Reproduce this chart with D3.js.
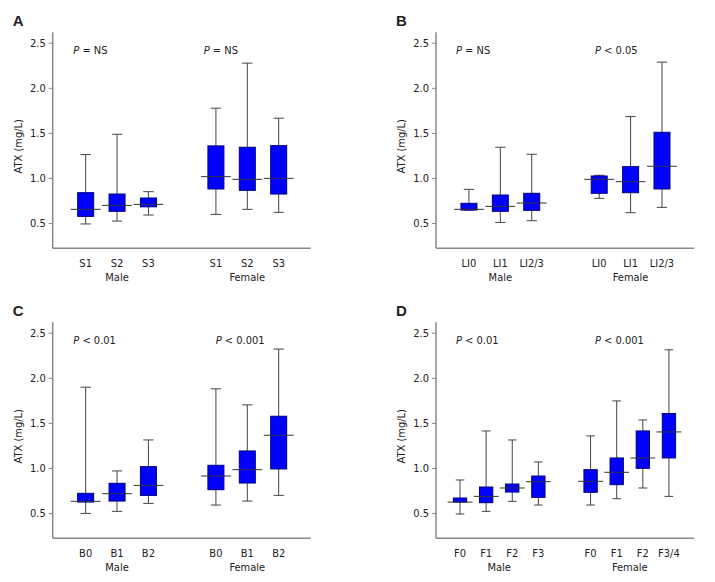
<!DOCTYPE html>
<html><head><meta charset="utf-8">
<script src="https://cdn.jsdelivr.net/npm/d3@7"></script>
<style>
body{margin:0;background:#fff;}
svg{display:block;}
text{font-family:"DejaVu Sans Condensed","DejaVu Sans",sans-serif;fill:#222;}
</style></head>
<body><svg id="chart" width="715" height="582"></svg>
<script>
// ---------- data: [lower whisker, Q1, median, Q3, upper whisker] ----------
const yTicks = [0.5, 1.0, 1.5, 2.0, 2.5];
const groups = ["Male", "Female"];

const catsA = ["S1", "S2", "S3"];
const maleA = [[0.49,0.574,0.652,0.837,1.26],[0.522,0.63,0.696,0.822,1.485],[0.589,0.68,0.707,0.778,0.848]];
const femaleA = [[0.596,0.878,1.015,1.356,1.774],[0.652,0.863,0.985,1.341,2.274],[0.619,0.822,0.996,1.359,1.663]];
const pA = ["= NS", "= NS"];

const catsB = ["LI0", "LI1", "LI2/3"];
const maleB = [[0.644,0.644,0.652,0.719,0.874],[0.507,0.63,0.685,0.811,1.341],[0.526,0.641,0.722,0.83,1.263]];
const femaleB = [[0.774,0.83,0.985,1.022,1.03],[0.615,0.837,0.959,1.126,1.681],[0.674,0.878,1.13,1.507,2.285]];
const pB = ["= NS", "< 0.05"];

const catsC = ["B0", "B1", "B2"];
const maleC = [[0.496,0.622,0.63,0.719,1.896],[0.519,0.633,0.715,0.83,0.967],[0.607,0.696,0.807,1.015,1.311]];
const femaleC = [[0.589,0.759,0.911,1.03,1.878],[0.633,0.833,0.981,1.189,1.70],[0.696,0.989,1.363,1.574,2.319]];
const pC = ["< 0.01", "< 0.001"];

const catsDMale = ["F0", "F1", "F2", "F3"];
const catsDFemale = ["F0", "F1", "F2", "F3/4"];
const maleD = [[0.489,0.622,0.622,0.667,0.867],[0.519,0.615,0.685,0.789,1.411],[0.63,0.733,0.778,0.822,1.311],[0.589,0.674,0.848,0.911,1.067]];
const femaleD = [[0.589,0.73,0.852,0.981,1.356],[0.659,0.815,0.952,1.111,1.744],[0.778,0.996,1.111,1.411,1.533],[0.685,1.111,1.40,1.604,2.311]];
const pD = ["< 0.01", "< 0.001"];

// ---------- layout ----------
const panels = [
  {letter:"A", ox:52.7, oy:32.3, mCats:catsA, fCats:catsA, male:maleA, female:femaleA, p:pA, femStart:4.15, dom:[-1.05,7.17], pX:[20.6,151]},
  {letter:"B", ox:436,  oy:32.3, mCats:catsB, fCats:catsB, male:maleB, female:femaleB, p:pB, femStart:4.15, dom:[-1.05,7.17], pX:[20,159]},
  {letter:"C", ox:52.7, oy:322.3, mCats:catsC, fCats:catsC, male:maleC, female:femaleC, p:pC, femStart:4.15, dom:[-1.05,7.17], pX:[20.6,163]},
  {letter:"D", ox:436,  oy:322.3, mCats:catsDMale, fCats:catsDFemale, male:maleD, female:femaleD, p:pD, femStart:5.0, dom:[-0.92,8.96], pX:[20,159]}
];
const W = 258, H = 216;
const svg = d3.select("#chart");

panels.forEach(pn => {
  const g = svg.append("g").attr("transform", `translate(${pn.ox},${pn.oy})`);
  const y = d3.scaleLinear().domain([0.22, 2.616]).range([H, 0]);
  const x = d3.scaleLinear().domain(pn.dom).range([0, W]);
  const step = x(1) - x(0);

  const items = [];
  pn.male.forEach((s,i) => items.push({pos:i, s, cat:pn.mCats[i]}));
  pn.female.forEach((s,i) => items.push({pos:pn.femStart+i, s, cat:pn.fCats[i]}));

  // axes
  const yAxis = d3.axisLeft(y).tickValues(yTicks).tickFormat(d3.format(".1f")).tickSize(4).tickPadding(3);
  const ya = g.append("g").call(yAxis);
  ya.select(".domain").attr("d", `M0,0V${H}`).attr("stroke", "#888").attr("stroke-width", 1.5);
  ya.selectAll(".tick line").attr("stroke", "#888");
  ya.selectAll(".tick text").attr("font-size", 11).attr("fill", "#333")
    .style("font-family", '"DejaVu Sans Condensed","DejaVu Sans",sans-serif');
  g.append("line").attr("x1", 0).attr("x2", W).attr("y1", H).attr("y2", H)
    .attr("stroke", "#888").attr("stroke-width", 1.5);

  // boxes
  const bw = step*0.51, mw = step*0.95, cw = step*0.33;
  items.forEach(d => {
    const cx = x(d.pos);
    const [lo,q1,md,q3,hi] = d.s;
    g.append("line").attr("x1", cx).attr("x2", cx).attr("y1", y(hi)).attr("y2", y(lo))
      .attr("stroke", "#444").attr("stroke-width", 1);
    g.append("line").attr("x1", cx-cw/2).attr("x2", cx+cw/2).attr("y1", y(hi)).attr("y2", y(hi))
      .attr("stroke", "#444").attr("stroke-width", 1);
    g.append("line").attr("x1", cx-cw/2).attr("x2", cx+cw/2).attr("y1", y(lo)).attr("y2", y(lo))
      .attr("stroke", "#444").attr("stroke-width", 1);
    g.append("rect").attr("x", cx-bw/2).attr("y", y(q3)).attr("width", bw).attr("height", Math.max(1, y(q1)-y(q3)))
      .attr("fill", "#0000ff").attr("stroke", "#00007a").attr("stroke-width", 1);
    g.append("line").attr("x1", cx-mw/2).attr("x2", cx+mw/2).attr("y1", y(md)).attr("y2", y(md))
      .attr("stroke", "#333").attr("stroke-width", 1);
    g.append("text").attr("x", cx).attr("y", H+19).attr("text-anchor", "middle")
      .attr("font-size", 11).text(d.cat);
  });

  // group labels
  const mMid = (pn.male.length-1)/2, fMid = pn.femStart + (pn.female.length-1)/2;
  [mMid, fMid].forEach((p,i) => {
    g.append("text").attr("x", x(p)).attr("y", H+33).attr("text-anchor", "middle")
      .attr("font-size", 11).text(groups[i]);
  });

  // P values
  pn.p.forEach((t,i) => {
    const tx = g.append("text").attr("x", pn.pX[i]).attr("y", 22).attr("font-size", 11);
    tx.append("tspan").attr("font-style", "italic").text("P");
    tx.append("tspan").text(" " + t);
  });

  // y title
  g.append("text").attr("transform", `translate(${-31},${114}) rotate(-90)`)
    .attr("text-anchor", "middle").attr("font-size", 11).text("ATX (mg/L)");

  // panel letter
  g.append("text").attr("x", -40).attr("y", -6).attr("font-size", 15).attr("font-weight", "bold")
    .style("font-family", '"Liberation Sans",Arial,sans-serif').attr("fill", "#000").text(pn.letter);
});
</script></body></html>
